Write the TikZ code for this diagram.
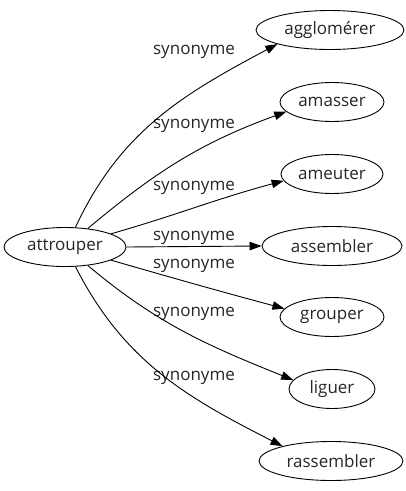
\documentclass[tikz,border=0pt]{standalone}
\usepackage{fontspec}
\setmainfont{Open Sans}
\usepackage{tikz}
\usetikzlibrary{arrows.meta, shapes.geometric, positioning, calc}

\begin{document}
\begin{tikzpicture}[x=1pt, y=1pt,
        every node/.style={font=\fontsize{17}{20}\selectfont, text=black!85},
        word/.style={draw, ellipse, line width=0.9pt, inner sep=0pt, minimum height=39pt},
        rel/.style={inner sep=0pt},
        arrow/.style={line width=0.9pt, -{Triangle[length=12pt, width=8.5pt]}}
      ]
        \useasboundingbox (0,0) rectangle (406,-491);

        % Words
        \node (verb) [word, minimum width=122pt] at (65,-247) {attrouper};
        \node (syn_agglomerer) [word, minimum width=148pt] at (330,-30) {agglomérer};
        \node (syn_amasser) [word, minimum width=104pt] at (332,-102) {amasser};
        \node (syn_ameuter) [word, minimum width=102pt] at (332,-174) {ameuter};
        \node (syn_assembler) [word, minimum width=140pt] at (332,-246) {assembler};
        \node (syn_grouper) [word, minimum width=104pt] at (332,-317) {grouper};
        \node (syn_liguer) [word, minimum width=86pt] at (332,-389) {liguer};
        \node (syn_rassembler) [word, minimum width=144pt] at (331,-461) {rassembler};

        % Labels
        \node (rel_agglomerer) [rel] at (194,-52) {synonyme};
        \node (rel_amasser) [rel] at (194,-126) {synonyme};
        \node (rel_ameuter) [rel] at (194,-188) {synonyme};
        \node (rel_assembler) [rel] at (194,-238) {synonyme};
        \node (rel_grouper) [rel] at (194,-266) {synonyme};
        \node (rel_liguer) [rel] at (194,-314) {synonyme};
        \node (rel_rassembler) [rel] at (194,-378) {synonyme};

        % Arrows
        \draw [arrow] (verb.62) to[out=65, in=208] (syn_agglomerer.195);
        \draw [arrow] (verb.39) to[out=40, in=200] (syn_amasser.192);
        \draw [arrow] (verb.16) to[out=16, in=195] (syn_ameuter.188);
        \draw [arrow] (verb.east) -- (syn_assembler.west);
        \draw [arrow] (verb.-16) to[out=-16, in=165] (syn_grouper.170);
        \draw [arrow] (verb.-39) to[out=-40, in=158] (syn_liguer.167);
        \draw [arrow] (verb.-62) to[out=-63, in=153] (syn_rassembler.163);
      \end{tikzpicture}
\end{document}
